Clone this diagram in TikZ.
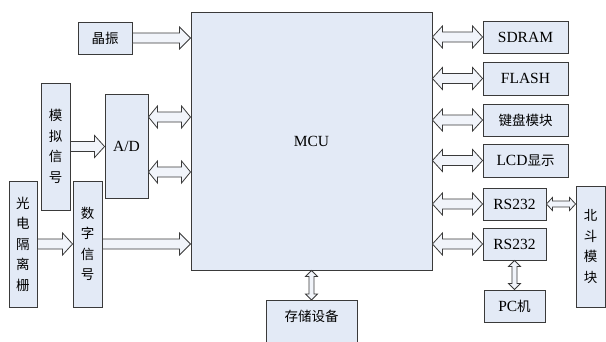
\documentclass[tikz,border=0pt]{standalone}
\usepackage{fontspec}
\setmainfont{Liberation Serif}
\newfontfamily\cjk{Noto Sans CJK SC}
\usetikzlibrary{calc}
\definecolor{boxfill}{HTML}{E3EAF6}
\definecolor{arrfill}{HTML}{F1F4FA}
\definecolor{edge}{HTML}{3A3A3A}
\tikzset{
  box/.style={draw=edge, fill=boxfill, line width=0.9pt, inner sep=0pt, align=center,
    font=\fontsize{15.5}{20}\selectfont},
  vbox/.style={box, font=\cjk\fontsize{13.5}{20.5}\selectfont},
  barrow/.style={draw=edge, fill=arrfill, line width=0.8pt, line join=miter},
}
% single right-pointing block arrow: #1 from, #2 to, #3 shaft half, #4 head half, #5 head length
\newcommand{\blockR}[5]{%
  \draw[barrow] let \p1=#1, \p2=#2 in
   (\x1,\y1+#3) -- (\x2-#5,\y1+#3) -- (\x2-#5,\y1+#4) -- (\x2,\y1) -- (\x2-#5,\y1-#4)
   -- (\x2-#5,\y1-#3) -- (\x1,\y1-#3) -- cycle;}
% double horizontal block arrow (left #1 to right #2)
\newcommand{\blockH}[5]{%
  \draw[barrow] let \p1=#1, \p2=#2 in
   (\x1,\y1) -- (\x1+#5,\y1+#4) -- (\x1+#5,\y1+#3) -- (\x2-#5,\y1+#3) -- (\x2-#5,\y1+#4)
   -- (\x2,\y1) -- (\x2-#5,\y1-#4) -- (\x2-#5,\y1-#3) -- (\x1+#5,\y1-#3) -- (\x1+#5,\y1-#4) -- cycle;}
% double vertical block arrow (top #1 to bottom #2)
\newcommand{\blockV}[5]{%
  \draw[barrow] let \p1=#1, \p2=#2 in
   (\x1,\y1) -- (\x1+#4,\y1-#5) -- (\x1+#3,\y1-#5) -- (\x1+#3,\y2+#5) -- (\x1+#4,\y2+#5)
   -- (\x1,\y2) -- (\x1-#4,\y2+#5) -- (\x1-#3,\y2+#5) -- (\x1-#3,\y1-#5) -- (\x1-#4,\y1-#5) -- cycle;}
\begin{document}
\begin{tikzpicture}[x=1pt,y=-1pt]
\useasboundingbox (0,0) rectangle (606,341);
% left side
\node[box, minimum width=54pt, minimum height=32pt] (jz) at (105,38) {\cjk\fontsize{13.5}{16}\selectfont 晶振};
\node[box, minimum width=241pt, minimum height=258pt] (mcu) at (311.5,141) {MCU};
\node[vbox, minimum width=29pt, minimum height=127pt] (mn) at (55.5,146.5) {模\\拟\\信\\号};
\node[box, minimum width=43pt, minimum height=104pt] (ad) at (126.5,146) {A/D};
\node[vbox, minimum width=28pt, minimum height=126pt] (gd) at (23,244) {光\\电\\隔\\离\\栅};
\node[vbox, minimum width=29pt, minimum height=126pt] (sz) at (87.5,244) {数\\字\\信\\号};
\node[box, minimum width=91pt, minimum height=46pt, anchor=north] (cc) at (311.5,300) {\raisebox{0pt}[0pt][0pt]{\raisebox{1.5pt}{\cjk\fontsize{13.5}{16}\selectfont 存储设备}}};
% right side
\node[box, minimum width=85pt, minimum height=32pt] (sdram) at (525.5,37) {SDRAM};
\node[box, minimum width=85pt, minimum height=33pt] (flash) at (525.5,78.5) {FLASH};
\node[box, minimum width=85pt, minimum height=32pt] (jp) at (525.5,120) {\cjk\fontsize{13.5}{16}\selectfont 键盘模块};
\node[box, minimum width=85pt, minimum height=33pt] (lcd) at (525.5,160.5) {LCD{\cjk\fontsize{13.5}{16}\selectfont 显示}};
\node[box, minimum width=63pt, minimum height=32pt] (rs1) at (514.5,204) {RS232};
\node[box, minimum width=63pt, minimum height=32pt] (rs2) at (514.5,244) {RS232};
\node[box, minimum width=61pt, minimum height=32pt] (pc) at (514.5,306) {PC{\cjk\fontsize{13.5}{16}\selectfont 机}};
\node[vbox, minimum width=29pt, minimum height=121pt] (bd) at (590.5,246.5) {北\\斗\\模\\块};
% arrows
\blockR{(jz.east)}{(mcu.west)}{5pt}{11pt}{11pt}
\blockR{(mn.east)}{(ad.west)}{5pt}{11pt}{10pt}
\blockH{([yshift=29pt]ad.east)}{(mcu.west)}{5pt}{11pt}{9pt}
\blockH{([yshift=-26pt]ad.east)}{(mcu.west)}{5pt}{11pt}{9pt}
\blockR{(gd.east)}{(sz.west)}{5pt}{11pt}{10pt}
\blockR{(sz.east)}{(mcu.west)}{5pt}{11pt}{11pt}
\blockH{(mcu.east |- sdram.west)}{(sdram.west)}{5pt}{11pt}{10pt}
\blockH{(mcu.east |- flash.west)}{(flash.west)}{5pt}{11pt}{10pt}
\blockH{(mcu.east |- jp.west)}{(jp.west)}{5pt}{11pt}{10pt}
\blockH{(mcu.east |- lcd.west)}{(lcd.west)}{5pt}{11pt}{10pt}
\blockH{(mcu.east |- rs1.west)}{(rs1.west)}{5pt}{11pt}{10pt}
\blockH{(mcu.east |- rs2.west)}{(rs2.west)}{5pt}{11pt}{10pt}
\blockH{(rs1.east)}{(bd.west)}{3pt}{6.5pt}{6pt}
\blockV{(rs2.south)}{(pc.north)}{2.5pt}{6pt}{6pt}
\blockV{(mcu.south)}{(cc.north)}{2.5pt}{6pt}{6pt}
\end{tikzpicture}
\end{document}
